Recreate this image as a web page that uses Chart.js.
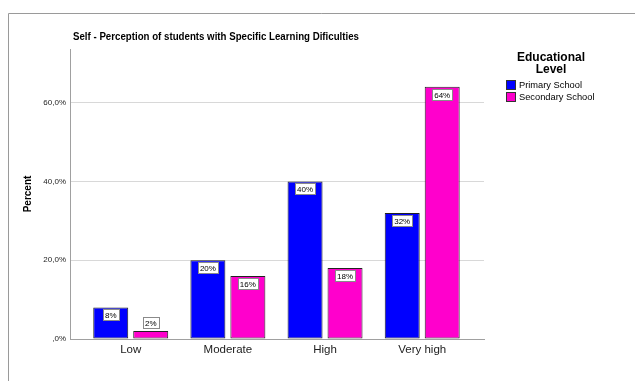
<!DOCTYPE html>
<html>
<head>
<meta charset="utf-8">
<script src="https://cdn.jsdelivr.net/npm/chart.js@4.4.0/dist/chart.umd.min.js"></script>
<style>
  html, body { margin: 0; padding: 0; background: #fff; }
  #wrap { width: 635px; height: 381px; position: relative; }
</style>
</head>
<body>
<div id="wrap"><canvas id="c" width="635" height="381"></canvas></div>
<script>
const categories = ["Low", "Moderate", "High", "Very high"];
const seriesNames = ["Primary School", "Secondary School"];
const primaryValues = [8, 20, 40, 32];
const secondaryValues = [2, 16, 18, 64];
const yTicks = [0, 20, 40, 60];
const chartTitle = "Self - Perception of students with Specific Learning Dificulties";
const legendTitle = ["Educational", "Level"];
const yTitle = "Percent";

const FONT = "'Liberation Sans', Arial, sans-serif";
const colors = ["#0000FF", "#FF00CC"];

const toPoints = arr => arr.map((v, i) => ({ x: i, y: v }));

const decor = {
  id: 'decor',
  beforeDraw(chart) {
    const ctx = chart.ctx;
    ctx.save();
    ctx.fillStyle = '#fff';
    ctx.fillRect(0, 0, chart.width, chart.height);
    ctx.strokeStyle = '#9a9a9a';
    ctx.lineWidth = 1;
    ctx.beginPath();
    ctx.moveTo(8.5, 381);
    ctx.lineTo(8.5, 13.5);
    ctx.lineTo(635, 13.5);
    ctx.stroke();
    ctx.restore();
  },
  afterDraw(chart) {
    const ctx = chart.ctx;
    ctx.save();
    // title: 11px bold, compressed horizontally to the reference width
    ctx.fillStyle = '#000';
    ctx.font = "bold 11px " + FONT;
    ctx.textBaseline = 'middle';
    ctx.textAlign = 'left';
    const tw = ctx.measureText(chartTitle).width;
    const sx = 286 / tw;
    ctx.save();
    ctx.translate(73, 37);
    ctx.scale(sx, 1);
    ctx.fillText(chartTitle, 0, 0);
    ctx.restore();
    // legend
    ctx.font = "bold 12px " + FONT;
    ctx.textAlign = 'center';
    ctx.fillText(legendTitle[0], 551, 58);
    ctx.fillText(legendTitle[1], 551, 70);
    ctx.font = "9.3px " + FONT;
    ctx.textAlign = 'left';
    chart.data.datasets.forEach((ds, i) => {
      const y = 80 + i * 12;
      ctx.fillStyle = ds.backgroundColor;
      ctx.fillRect(506, y, 9, 9);
      ctx.strokeStyle = '#333';
      ctx.strokeRect(506.5, y + 0.5, 9, 9);
      ctx.fillStyle = '#000';
      ctx.fillText(ds.label, 519, y + 5);
    });
    // data labels
    ctx.font = "8px " + FONT;
    ctx.textAlign = 'center';
    chart.data.datasets.forEach((ds, di) => {
      const meta = chart.getDatasetMeta(di);
      meta.data.forEach((bar, i) => {
        const v = ds.data[i].y;
        const txt = v + '%';
        const w = Math.round(ctx.measureText(txt).width) + 4;
        const h = 11;
        const bx = Math.round(bar.x - w / 2) + 0.5;
        let by;
        if (bar.base - bar.y > h + 4) by = Math.round(bar.y) + 2.5;
        else by = Math.round(bar.y) - h - 2.5;
        ctx.fillStyle = '#fff';
        ctx.fillRect(bx, by, w, h);
        ctx.strokeStyle = '#8a8a8a';
        ctx.lineWidth = 1;
        ctx.strokeRect(bx, by, w, h);
        ctx.fillStyle = '#000';
        ctx.fillText(txt, bar.x, by + h / 2 + 0.5);
      });
    });
    ctx.restore();
  }
};

new Chart(document.getElementById('c'), {
  type: 'bar',
  data: {
    datasets: [
      { label: seriesNames[0], data: toPoints(primaryValues), backgroundColor: colors[0] },
      { label: seriesNames[1], data: toPoints(secondaryValues), backgroundColor: colors[1] }
    ]
  },
  options: {
    responsive: false,
    animation: false,
    events: [],
    layout: { padding: { left: 8, top: 49, right: 151, bottom: 0 } },
    datasets: {
      bar: {
        borderColor: '#222',
        borderWidth: 1,
        borderSkipped: false,
        barPercentage: 0.875,
        categoryPercentage: 0.823
      }
    },
    plugins: {
      legend: { display: false },
      title: { display: false },
      tooltip: { enabled: false }
    },
    scales: {
      x: {
        type: 'linear',
        min: -0.625,
        max: 3.636,
        offset: false,
        afterBuildTicks: s => { s.ticks = categories.map((c, i) => ({ value: i })); },
        afterFit: s => { s.height = 42; },
        ticks: {
          callback: v => categories[v],
          font: { family: FONT, size: 11.5 },
          color: '#222',
          padding: 4,
          maxRotation: 0,
          autoSkip: false
        },
        grid: { display: false, drawTicks: false },
        border: { color: '#a0a0a0', width: 1 }
      },
      y: {
        min: 0,
        max: 73.6,
        afterBuildTicks: s => { s.ticks = yTicks.map(v => ({ value: v })); },
        afterFit: s => { s.width = 62; },
        ticks: {
          callback: v => v === 0 ? ',0%' : v.toFixed(1).replace('.', ',') + '%',
          font: { family: FONT, size: 8 },
          color: '#222',
          padding: 4
        },
        grid: {
          color: c => c.tick && c.tick.value === 0 ? 'rgba(0,0,0,0)' : '#d8d8d8',
          drawTicks: false
        },
        border: { color: '#a0a0a0', width: 1 },
        title: {
          display: true,
          text: yTitle,
          font: { family: FONT, size: 10, weight: 'bold' },
          color: '#000',
          padding: { top: 14, bottom: 6 }
        }
      }
    }
  },
  plugins: [decor]
});
</script>
</body>
</html>
